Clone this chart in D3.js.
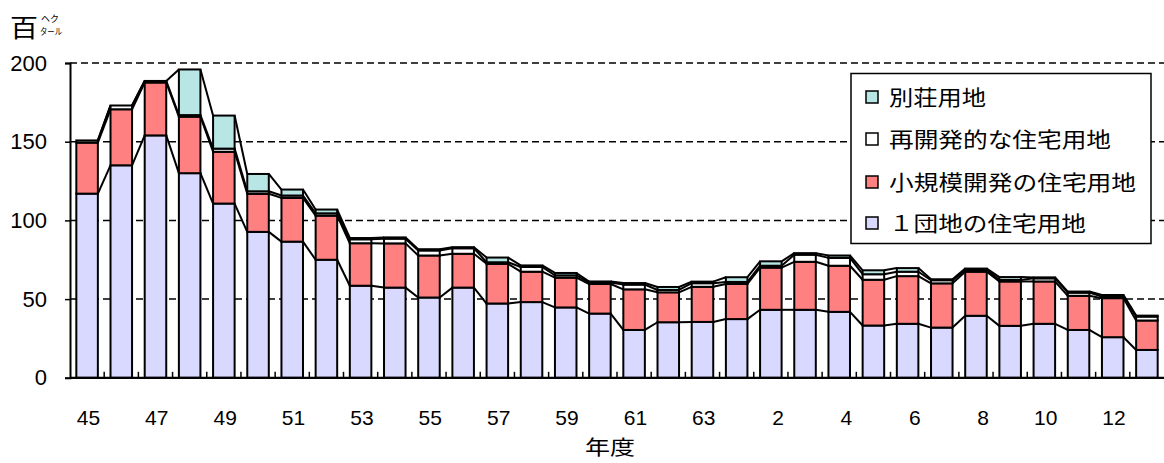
<!DOCTYPE html>
<html><head><meta charset="utf-8">
<script src="https://cdn.jsdelivr.net/npm/d3@7"></script>
<style>body{margin:0;background:#fff;}svg{display:block;}</style>
</head><body>
<svg id="c" width="1164" height="463"></svg>
<script>
const years = ["45","46","47","48","49","50","51","52","53","54","55","56","57","58","59","60","61","62","63","元","2","3","4","5","6","7","8","9","10","11","12","13"];
const danchi = [117,135,154,130,110.7,92.7,86.5,75,58.5,57.3,51,57.3,47.2,48.1,44.7,40.8,30.4,35.3,35.5,37.3,43.2,43.2,41.9,33.2,34.3,31.9,39.4,33,34.3,30.4,25.8,17.7];
const shokibo = [32.4,35.6,33.6,35.9,32.9,24.2,27.8,28,27,28.1,26.7,21.5,25.2,19.3,18.9,18.8,25.8,19,22.3,22.3,26.8,30.5,29.3,29.1,30.3,28.1,28,28.2,26.9,21.7,24.8,18.7];
const saikaihatsu = [1.4,2.4,1,1,2,1.6,1.5,1.5,2.5,3,3.2,3.5,1,3,1.5,1,3,1.5,2.3,1.3,1.2,4.5,5,3.5,2.8,2,1,1,2,2,1,2.5];
const bessou = [0,0,0,29,21,11,3.8,2.4,0.8,0.8,0.8,0.7,3,1,1.5,0.6,1,1.9,1,3,2.8,1,1.5,2.5,2.3,0.6,1,1.8,0.6,0.7,1,0.6];
const seriesNames = ["１団地の住宅用地","小規模開発の住宅用地","再開発的な住宅用地","別荘用地"];
const seriesColors = ["#D9D9FF","#FF8080","#FFFFFF","#B7E6E4"];
const yTicks = [0,50,100,150,200];
const yUnit = "百";
const yUnitSmall = ["ヘク","タール"];
const xTitle = "年度";

const svg = d3.select("#c");
const jp = "'Noto Sans CJK JP','Noto Sans',sans-serif";
const num = "'Liberation Sans',Arial,sans-serif";
const L = 70, R = 1164, T = 63, B = 377.8;

const x = d3.scaleBand().domain(years).range([L, R]).paddingInner(0.37).paddingOuter(0.185);
const y = d3.scaleLinear().domain([0,200]).range([B, T]);

const table = years.map((yr,i)=>({yr, s0:danchi[i], s1:shokibo[i], s2:saikaihatsu[i], s3:bessou[i]}));
const stack = d3.stack().keys(["s0","s1","s2","s3"])(table);

// gridlines
svg.append("g").selectAll("line").data(yTicks.filter(d=>d>0)).join("line")
  .attr("x1", L).attr("x2", R).attr("y1", d=>y(d)).attr("y2", d=>y(d))
  .attr("stroke","#000").attr("stroke-width",1.5).attr("stroke-dasharray","7,4");

// bars
const bw = x.bandwidth();
stack.forEach((s,k)=>{
  svg.append("g").selectAll("rect").data(s).join("rect")
    .attr("x", (d,i)=>x(years[i])).attr("width", bw)
    .attr("y", d=>y(d[1])).attr("height", d=>Math.max(0, y(d[0])-y(d[1])))
    .attr("fill", seriesColors[k]).attr("stroke","#000").attr("stroke-width",2);
});
// series lines
stack.forEach((s,k)=>{
  const g = svg.append("g");
  for (let i=0;i<s.length-1;i++){
    g.append("line")
      .attr("x1", x(years[i])+bw).attr("y1", y(s[i][1]))
      .attr("x2", x(years[i+1])).attr("y2", y(s[i+1][1]))
      .attr("stroke","#000").attr("stroke-width",2);
  }
});

// y axis
const ya = svg.append("g").attr("transform",`translate(${L},0)`)
  .call(d3.axisLeft(y).tickValues(yTicks).tickSize(5).tickPadding(18));
ya.select(".domain").attr("stroke","#000").attr("stroke-width",2);
ya.selectAll(".tick line").attr("stroke","#000").attr("stroke-width",1.5);
ya.selectAll("text").attr("font-family",num).attr("font-size",22).attr("fill","#000");

// x axis
svg.append("line").attr("x1",L).attr("x2",R).attr("y1",B).attr("y2",B).attr("stroke","#000").attr("stroke-width",2.2);
const bounds = years.slice(1).map(yr=>x(yr) - x.step()*x.paddingInner()/2);
svg.append("g").selectAll("line").data(bounds).join("line")
  .attr("x1",d=>d).attr("x2",d=>d).attr("y1",B).attr("y2",B-6)
  .attr("stroke","#000").attr("stroke-width",1.5);
svg.append("g").selectAll("text").data(years.filter((d,i)=>i%2===0)).join("text")
  .attr("x", d=>x(d)+bw/2+13).attr("y", 425)
  .attr("text-anchor","end").attr("font-family",num).attr("font-size",21).attr("fill","#000")
  .text(d=>d);

svg.append("text").attr("x",585).attr("y",455)
  .attr("textLength",50).attr("lengthAdjust","spacingAndGlyphs")
  .attr("font-family",jp).attr("font-size",20).attr("fill","#000").text(xTitle);

// unit label
svg.append("text").attr("x",10).attr("y",37).attr("textLength",28).attr("lengthAdjust","spacingAndGlyphs")
  .attr("font-family",jp).attr("font-size",25).attr("fill","#000").text(yUnit);
svg.append("text").attr("x",41).attr("y",22).attr("textLength",18).attr("lengthAdjust","spacingAndGlyphs")
  .attr("font-family",jp).attr("font-size",9).attr("fill","#000").text(yUnitSmall[0]);
svg.append("text").attr("x",40).attr("y",35).attr("textLength",22).attr("lengthAdjust","spacingAndGlyphs")
  .attr("font-family",jp).attr("font-size",9).attr("fill","#000").text(yUnitSmall[1]);

// legend
const lg = svg.append("g");
lg.append("rect").attr("x",851).attr("y",73.5).attr("width",300).attr("height",170)
  .attr("fill","#fff").attr("stroke","#000").attr("stroke-width",1.5);
const legendOrder = [3,2,1,0];
const rowY = [97,139,182,223];
legendOrder.forEach((k,j)=>{
  lg.append("rect").attr("x",866).attr("y",rowY[j]-6).attr("width",12).attr("height",12)
    .attr("fill",seriesColors[k]).attr("stroke","#000").attr("stroke-width",1.5);
  const n = seriesNames[k].length;
  lg.append("text").attr("x",889).attr("y",rowY[j]).attr("dy","0.36em")
    .attr("textLength", n*25 - 3).attr("lengthAdjust","spacingAndGlyphs")
    .attr("font-family",jp).attr("font-size",21).attr("fill","#000").text(seriesNames[k]);
});
</script>
</body></html>
